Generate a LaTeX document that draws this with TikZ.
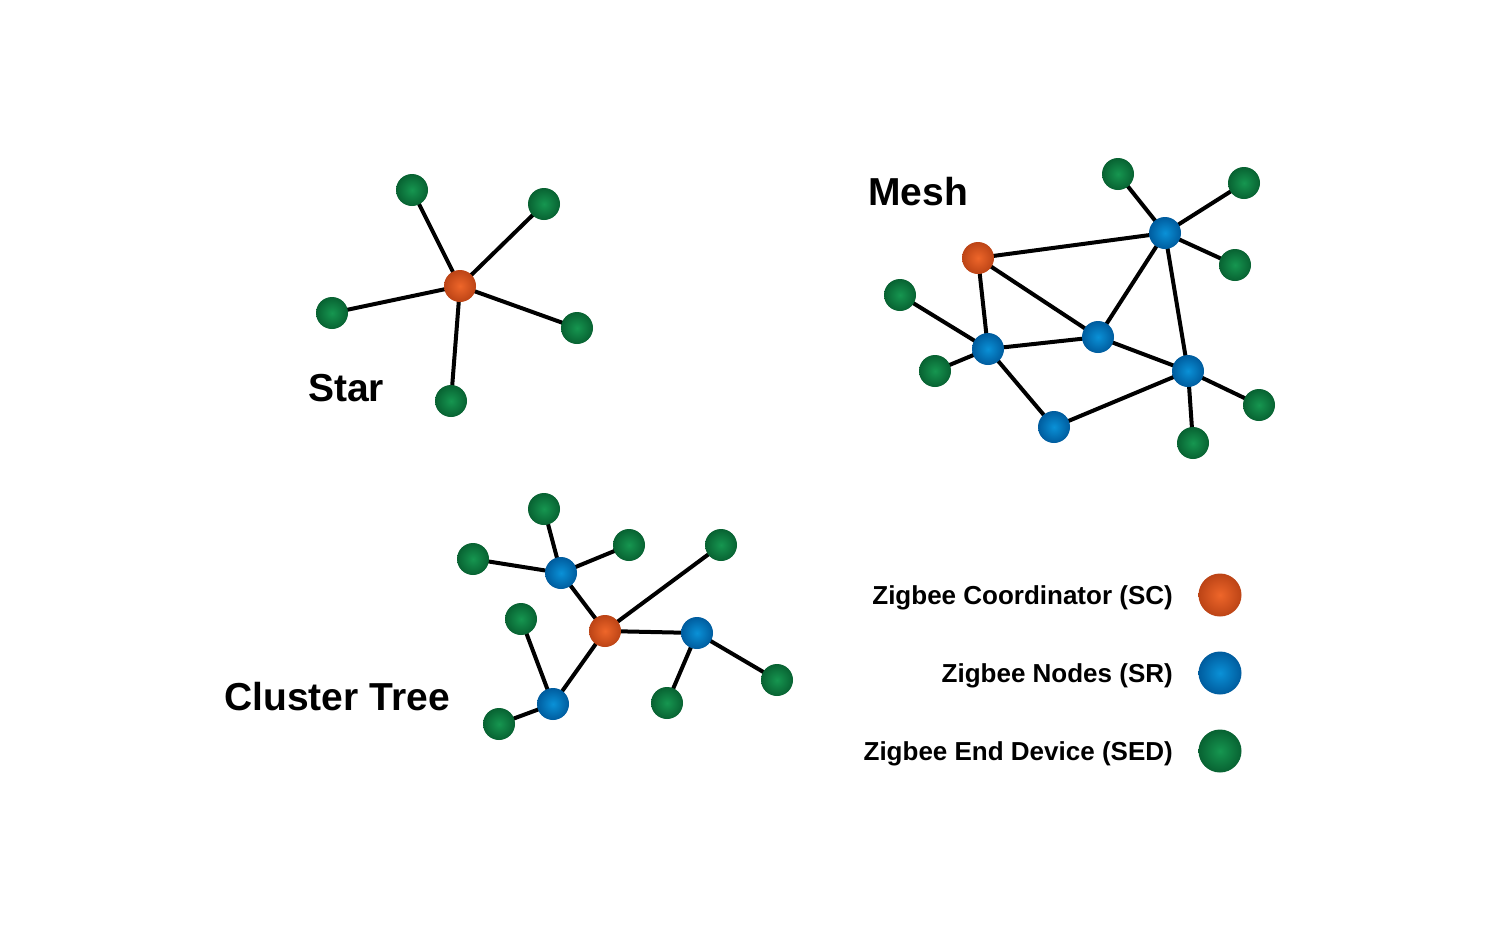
\documentclass[tikz,border=0pt]{standalone}
\usepackage{fontspec}
\setmainfont{Liberation Sans}
\usetikzlibrary{backgrounds}
\definecolor{scIn}{RGB}{238,102,42}
\definecolor{scOut}{RGB}{188,68,22}
\definecolor{srIn}{RGB}{10,145,215}
\definecolor{srOut}{RGB}{0,92,158}
\definecolor{sedIn}{RGB}{22,150,80}
\definecolor{sedOut}{RGB}{8,98,50}
\tikzset{
  dev/.style={circle, minimum size=32pt, inner sep=0pt},
  sc/.style={dev, inner color=scIn, outer color=scOut},
  sr/.style={dev, inner color=srIn, outer color=srOut},
  sed/.style={dev, inner color=sedIn, outer color=sedOut},
  big/.style={minimum size=43pt},
  link/.style={line width=4pt, black},
  title/.style={font=\bfseries\fontsize{39}{47}\selectfont, inner sep=0pt},
  legend/.style={font=\bfseries\fontsize{26}{31}\selectfont, inner sep=0pt, anchor=east},
}
\begin{document}
\begin{tikzpicture}[x=1pt,y=-1pt]
\useasboundingbox (0,0) rectangle (1500,932);
% Star
\node[sc] (s0) at (460,286) {};
\node[sed] (s1) at (412,190) {};
\node[sed] (s2) at (544,204) {};
\node[sed] (s3) at (332,313) {};
\node[sed] (s4) at (577,328) {};
\node[sed] (s5) at (451,401) {};
\node[title] (tstar) at (346,388) {Star};
% Mesh
\node[sc] (m0) at (978,258) {};
\node[sr] (ma) at (1165,233) {};
\node[sr] (mb) at (988,349) {};
\node[sr] (mc) at (1098,337) {};
\node[sr] (md) at (1188,371) {};
\node[sr] (me) at (1054,427) {};
\node[sed] (m1) at (1118,174) {};
\node[sed] (m2) at (1244,183) {};
\node[sed] (m3) at (1235,265) {};
\node[sed] (m4) at (900,295) {};
\node[sed] (m5) at (935,371) {};
\node[sed] (m6) at (1259,405) {};
\node[sed] (m7) at (1193,443) {};
\node[title] (tmesh) at (918,192) {Mesh};
% Cluster tree
\node[sc] (c0) at (605,631) {};
\node[sr] (ca) at (561,573) {};
\node[sr] (cb) at (697,633) {};
\node[sr] (cc) at (553,704) {};
\node[sed] (c1) at (544,509) {};
\node[sed] (c2) at (473,559) {};
\node[sed] (c3) at (629,545) {};
\node[sed] (c4) at (721,545) {};
\node[sed] (c5) at (521,619) {};
\node[sed] (c6) at (777,680) {};
\node[sed] (c7) at (667,703) {};
\node[sed] (c8) at (499,724) {};
\node[title] (tclu) at (337,697) {Cluster Tree};
% Legend
\node[sc,big] (l1) at (1220,595) {};
\node[sr,big] (l2) at (1220,673) {};
\node[sed,big] (l3) at (1220,751) {};
\node[legend] (t1) at (1173,598) {Zigbee Coordinator (SC)};
\node[legend] (t2) at (1173,676) {Zigbee Nodes (SR)};
\node[legend] (t3) at (1173,754) {Zigbee End Device (SED)};
\begin{scope}[on background layer]
\fill[white] (0,0) rectangle (1500,932);
\foreach \n in {s1,s2,s3,s4,s5} \draw[link] (s0.center) -- (\n.center);
\foreach \a/\b in {m0/ma,m0/mb,m0/mc,ma/m1,ma/m2,ma/m3,ma/mc,ma/md,mb/m4,mb/m5,mb/mc,mb/me,mc/md,me/md,md/m6,md/m7}
  \draw[link] (\a.center) -- (\b.center);
\foreach \a/\b in {c0/ca,c0/c4,c0/cb,c0/cc,ca/c1,ca/c2,ca/c3,cb/c7,cb/c6,cc/c5,cc/c8}
  \draw[link] (\a.center) -- (\b.center);
\end{scope}
\end{tikzpicture}
\end{document}
